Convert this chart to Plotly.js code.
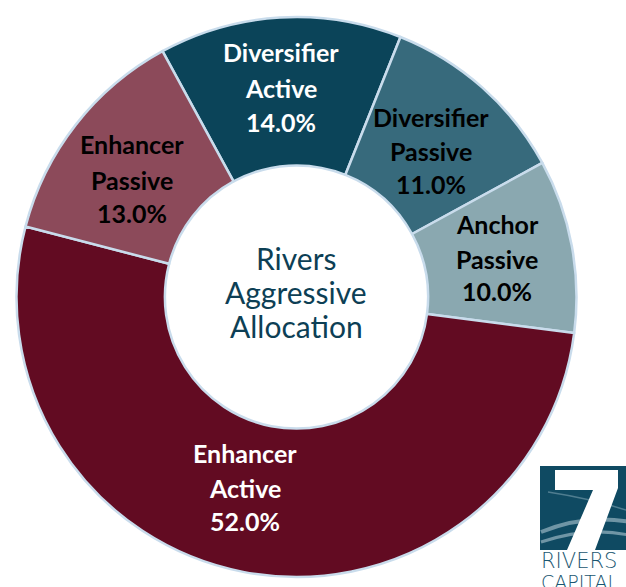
<!DOCTYPE html>
<html><head><meta charset="utf-8">
<script src="https://cdn.plot.ly/plotly-3.0.1.min.js"></script>
<style>html,body{margin:0;padding:0;background:#fff}#c{width:626px;height:587px}</style>
</head><body><div id="c"></div>
<script>
const categories = ["Diversifier Active","Diversifier Passive","Anchor Passive","Enhancer Active","Enhancer Passive"];
const labelLine1 = ["Diversifier","Diversifier","Anchor","Enhancer","Enhancer"];
const labelLine2 = ["Active","Passive","Passive","Active","Passive"];
const values = [14.0, 11.0, 10.0, 52.0, 13.0];
const colors = ["#0b4459","#376a7c","#8aa8b0","#620b22","#8c4a5a"];
const textColors = ["#ffffff","#000000","#000000","#ffffff","#000000"];
const centerLines = ["Rivers","Aggressive","Allocation"];
const logoWords = ["RIVERS","CAPITAL"];

// label placement (pixels, layout only)
const labelPos = [
  {x:281, y:[52,88,122]},
  {x:431, y:[117,151,184]},
  {x:497, y:[224,259,291]},
  {x:245, y:[453,488,521]},
  {x:132, y:[144,180,213]}
];
const W=626, H=587;
const px = x => x/W, py = y => 1 - y/H;

const trace = {
  type:"pie", hole:0.47, sort:false, direction:"clockwise", rotation:-28.6,
  labels:categories, values:values, textinfo:"none",
  marker:{colors:colors, line:{color:"#c9dcec", width:2.5}},
  domain:{x:[15/626, 578/626], y:[10/587, 570/587]},
  hoverinfo:"none", showlegend:false
};

const annotations = [];
categories.forEach((c,i)=>{
  const lines = [labelLine1[i], labelLine2[i], values[i].toFixed(1)+"%"];
  lines.forEach((t,j)=>{
    annotations.push({text:t, x:px(labelPos[i].x), y:py(labelPos[i].y[j]), xref:"paper", yref:"paper",
      xanchor:"center", yanchor:"middle", showarrow:false,
      font:{family:"Lato, 'Open Sans', sans-serif", size:25, color:textColors[i], weight:"bold"}});
  });
});
const centerY = [258,292,326];
centerLines.forEach((t,j)=>{
  annotations.push({text:t, x:px(296), y:py(centerY[j]), xref:"paper", yref:"paper",
    xanchor:"center", yanchor:"middle", showarrow:false,
    font:{family:"Lato, sans-serif", size:30, color:"#0d3f55"}});
});
annotations.push({text:logoWords[0], x:px(539), y:py(561), xref:"paper", yref:"paper", xanchor:"left", yanchor:"middle",
  showarrow:false, font:{family:"'DejaVu Sans', sans-serif", size:21, color:"#1a5670", weight:300}});
annotations.push({text:logoWords[1], x:px(539), y:py(582), xref:"paper", yref:"paper", xanchor:"left", yanchor:"middle",
  showarrow:false, font:{family:"'DejaVu Sans', sans-serif", size:19, color:"#1a5670", weight:300}});

const P = (x,y)=> px(x)+","+py(y);
const layout = {
  width:W, height:H, margin:{l:0,r:0,t:0,b:0},
  paper_bgcolor:"#ffffff", plot_bgcolor:"#ffffff", showlegend:false,
  annotations:annotations,
  shapes:[
    {type:"rect", xref:"paper", yref:"paper", x0:px(540), x1:px(640), y0:py(550), y1:py(466),
     fillcolor:"#0f4a62", line:{width:0}, layer:"above"},
    {type:"path", xref:"paper", yref:"paper",
     path:"M "+P(541,532)+" Q "+P(590,512)+" "+P(640,524),
     line:{color:"#6f95a5", width:4}, layer:"above"},
    {type:"path", xref:"paper", yref:"paper",
     path:"M "+P(541,542)+" Q "+P(595,524)+" "+P(640,538),
     line:{color:"#6f95a5", width:3}, layer:"above"},
    {type:"path", xref:"paper", yref:"paper",
     path:"M "+P(548,492)+" Q "+P(600,500)+" "+P(640,515),
     line:{color:"#4f7d90", width:1.5}, layer:"above"},
    {type:"path", xref:"paper", yref:"paper",
     path:"M "+P(555,470)+" L "+P(618,470)+" L "+P(618,488)+" L "+P(595,550)+" L "+P(567,550)+" L "+P(593,490)+" L "+P(555,490)+" Z",
     fillcolor:"#ffffff", line:{width:0}, layer:"above"}
  ]
};
Plotly.newPlot("c",[trace],layout,{displayModeBar:false, staticPlot:true});
</script></body></html>
